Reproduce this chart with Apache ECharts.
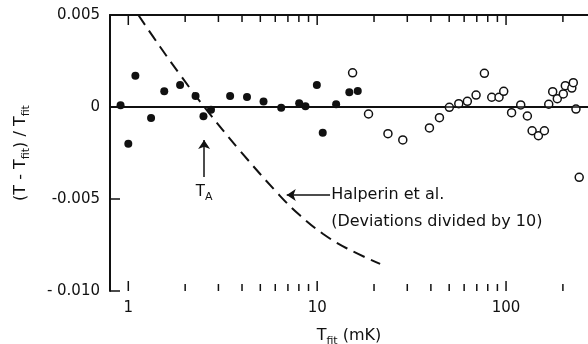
<!DOCTYPE html>
<html>
<head>
<meta charset="utf-8">
<script src="https://cdn.jsdelivr.net/npm/echarts@6/dist/echarts.min.js"></script>
<style>
  html, body { margin: 0; padding: 0; background: #fff; }
  #chart { width: 588px; height: 344px; }
</style>
</head>
<body>
<div id="chart"></div>
<script>
// below T ~ 16 mK (filled) and above (open)
const filledX = [0.91, 1.0, 1.09, 1.32, 1.55, 1.88, 2.27, 2.50, 2.74, 3.46, 4.25, 5.2, 6.45, 8.03, 8.67, 9.96, 10.7, 12.6, 14.8, 16.4];
const filledY = [0.0001, -0.0020, 0.0017, -0.0006, 0.00085, 0.0012, 0.0006, -0.0005, -0.00015, 0.0006, 0.00054, 0.0003, -0.00004, 0.0002, 0.00004, 0.0012, -0.0014, 0.00015, 0.0008, 0.00087];
const openX = [15.4, 18.7, 23.7, 28.4, 39.3, 44.4, 50.1, 56.2, 62.4, 69.4, 76.8, 84, 91.8, 97.2, 107, 119.6, 129.7, 137.4, 148.4, 159.6, 168.3, 176.6, 186.8, 201, 206, 223, 227, 234.5, 244];
const openY = [0.00186, -0.00038, -0.00145, -0.00179, -0.00114, -0.00058, -0.00002, 0.00018, 0.00031, 0.00065, 0.00183, 0.00053, 0.00053, 0.00085, -0.00031, 0.00011, -0.00049, -0.00129, -0.00156, -0.00129, 0.00015, 0.00083, 0.00045, 0.00071, 0.00116, 0.00103, 0.00132, -0.00011, -0.00382];

// Halperin et al. curve (deviations divided by 10)
const halperinX = [1.13, 1.476, 1.884, 2.525, 3.914, 6.372, 8.13, 10.76, 14.41, 21.54];
const halperinY = [0.0050, 0.00326, 0.00174, 0, -0.00239, -0.00484, -0.0059, -0.0069, -0.00769, -0.00853];

const xMajorTicks = [1, 10, 100];
const xMinorTicks = [2, 3, 4, 5, 6, 7, 8, 9, 20, 30, 40, 50, 60, 70, 80, 90, 200];
const xTickLabels = ['1', '10', '100'];
const yTickValues = [-0.010, -0.005, 0, 0.005];
const yTickLabels = ['- 0.010', '-0.005', '0', '0.005'];

const xMin = 0.8, xMax = 271.6;
const yMin = -0.010, yMax = 0.005;

const ink = '#111';
const font = 'DejaVu Sans';
const subStyle = { fontSize: 11, fontFamily: font, color: ink, verticalAlign: 'bottom', lineHeight: 22 };
const mainStyle = { fontSize: 16, fontFamily: font, color: ink, lineHeight: 22 };

const zip = (xs, ys) => xs.map((x, i) => [x, ys[i]]);

const tickData = xMajorTicks.map(v => [v, 0, 1]).concat(xMinorTicks.map(v => [v, 0, 0]));

const chart = echarts.init(document.getElementById('chart'), null, { renderer: 'canvas' });

const option = {
    animation: false,
    backgroundColor: '#fff',
    grid: { left: 110, right: 0, top: 15, bottom: 53, outerBoundsMode: 'none' },
    xAxis: [
        {
            type: 'log',
            min: xMin,
            max: xMax,
            axisLine: { show: true, lineStyle: { color: ink, width: 2 } },
            axisTick: { show: false },
            splitLine: { show: false },
            axisLabel: {
                color: ink, fontSize: 15, fontFamily: font, margin: 10,
                showMinLabel: false, showMaxLabel: false,
                formatter: v => {
                    const i = xMajorTicks.findIndex(t => Math.abs(t - v) / t < 1e-6);
                    return i >= 0 ? xTickLabels[i] : '';
                }
            },
            name: 'T{s|fit} (mK)',
            nameLocation: 'middle',
            nameGap: 34,
            nameTextStyle: { color: ink, fontSize: 16, fontFamily: font, rich: { s: subStyle } }
        },
        {
            type: 'log',
            position: 'top',
            min: xMin,
            max: xMax,
            axisLine: { show: true, lineStyle: { color: ink, width: 2 } },
            axisTick: { show: false },
            axisLabel: { show: false },
            splitLine: { show: false }
        }
    ],
    yAxis: {
        type: 'value',
        min: yMin,
        max: yMax,
        interval: 0.005,
        axisLine: { show: true, lineStyle: { color: ink, width: 2 } },
        axisTick: { show: true, inside: true, length: 10, lineStyle: { color: ink, width: 1.5 } },
        splitLine: { show: false },
        axisLabel: {
            color: ink, fontSize: 15, fontFamily: font, margin: 10,
            formatter: v => {
                const i = yTickValues.findIndex(t => Math.abs(t - v) < 1e-9);
                return i >= 0 ? yTickLabels[i] : '';
            }
        },
        name: '(T - T{s|fit}) / T{s|fit}',
        nameLocation: 'middle',
        nameGap: 78,
        nameRotate: 90,
        nameTextStyle: { color: ink, fontSize: 16, fontFamily: font, rich: { s: subStyle } }
    },
    series: [
        {
            // minor and major log ticks on bottom and top edges
            type: 'custom',
            silent: true,
            clip: false,
            data: tickData,
            encode: { x: 0, y: 1 },
            renderItem: (params, api) => {
                const v = api.value(0);
                const len = api.value(2) ? 10 : 7;
                const b = api.coord([v, yMin]);
                const t = api.coord([v, yMax]);
                const style = { stroke: ink, lineWidth: 1.5 };
                return {
                    type: 'group',
                    children: [
                        { type: 'line', shape: { x1: b[0], y1: b[1], x2: b[0], y2: b[1] - len }, style },
                        { type: 'line', shape: { x1: t[0], y1: t[1], x2: t[0], y2: t[1] + len }, style }
                    ]
                };
            }
        },
        {
            name: 'Halperin et al.',
            type: 'line',
            data: zip(halperinX, halperinY),
            smooth: 0.4,
            showSymbol: false,
            silent: true,
            lineStyle: { color: ink, width: 2, type: [12, 7] },
            markLine: {
                silent: true,
                symbol: ['none', 'arrow'],
                symbolSize: 9,
                label: { show: false },
                lineStyle: { color: ink, width: 1.5, type: 'solid' },
                data: [
                    [{ coord: [11.7, -0.00478] }, { coord: [6.9, -0.00478] }],
                    [{ coord: [2.52, -0.0038] }, { coord: [2.52, -0.0018] }]
                ]
            },
            markPoint: {
                silent: true,
                symbol: 'circle',
                symbolSize: 0,
                data: [
                    {
                        coord: [11.86, -0.00478],
                        label: { show: true, position: 'right', distance: 0, formatter: 'Halperin et al.', color: ink, fontSize: 16, fontFamily: font }
                    },
                    {
                        coord: [11.86, -0.00625],
                        label: { show: true, position: 'right', distance: 0, formatter: '(Deviations divided by 10)', color: ink, fontSize: 16, fontFamily: font }
                    },
                    {
                        coord: [2.52, -0.00462],
                        label: { show: true, position: 'inside', formatter: 'T{s|A}', color: ink, fontSize: 15, fontFamily: font, rich: { s: subStyle } }
                    }
                ]
            }
        },
        {
            name: 'filled',
            type: 'scatter',
            data: zip(filledX, filledY),
            symbol: 'circle',
            symbolSize: 8,
            itemStyle: { color: ink, opacity: 1 },
            markLine: {
                silent: true,
                symbol: ['none', 'none'],
                label: { show: false },
                lineStyle: { color: ink, width: 1.5, type: 'solid' },
                data: [{ yAxis: 0 }]
            }
        },
        {
            name: 'open',
            type: 'scatter',
            data: zip(openX, openY),
            symbol: 'circle',
            symbolSize: 8,
            itemStyle: { color: '#fff', borderColor: ink, borderWidth: 1.5, opacity: 1 }
        }
    ]
};

chart.setOption(option);
</script>
</body>
</html>
